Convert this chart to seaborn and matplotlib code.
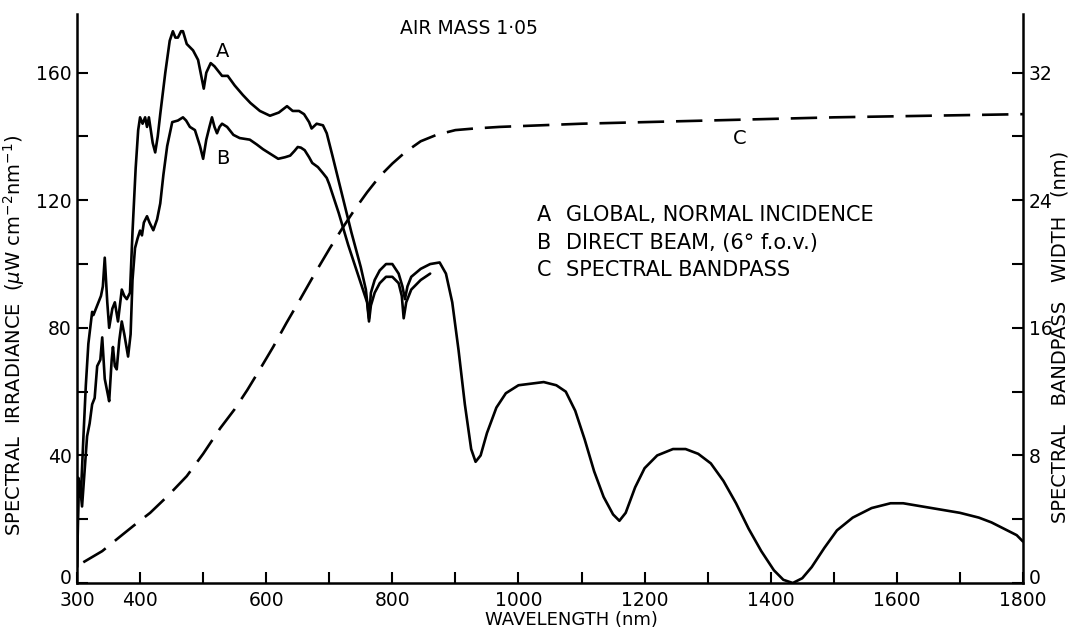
import matplotlib
matplotlib.use("Agg")
import matplotlib.pyplot as plt
import matplotlib.transforms as mtrans
import seaborn as sns
import pandas as pd
from matplotlib.ticker import MultipleLocator, FixedLocator

# ---- data ----
a_nm = [300, 303, 306, 310, 314, 318, 324, 326, 332, 338, 341, 344, 348, 351, 356, 360, 365, 371, 375, 379,
        384, 388, 393, 397, 400, 404, 408, 411, 414, 420, 424, 428, 432, 440, 447, 452, 456, 460, 465, 468,
        474, 484, 492, 496, 501, 505, 512, 518, 522, 530, 539, 550, 563, 575, 590, 606, 620, 633, 642, 652,
        660, 668, 672, 680, 690, 696, 705, 720, 735, 750, 758, 763, 766, 772, 780, 790, 800, 810, 816, 820,
        824, 830, 845, 860, 875, 885, 895, 905, 915, 925, 932, 940, 950, 965, 980, 1000, 1020, 1040, 1060,
        1075, 1090, 1105, 1120, 1135, 1150, 1160, 1170, 1185, 1200, 1220, 1245, 1265, 1285, 1305, 1325, 1345,
        1365, 1385, 1405, 1420, 1435, 1450, 1465, 1485, 1505, 1530, 1560, 1590, 1610, 1640, 1670, 1700, 1730,
        1750, 1770, 1790, 1800]
a_val = [5, 32, 27, 45, 62, 75, 85, 84, 87, 90, 93, 102, 88, 80, 86, 88, 82, 92, 90, 89,
         91, 110, 130, 142, 146, 144, 146, 143, 146, 138, 135, 140, 147, 160, 170, 173, 171, 171, 173, 173,
         169, 167, 164, 160, 155, 160, 163, 162, 161, 159, 159, 156, 153, 150.5, 148, 146.5, 147.5, 149.5, 148, 148,
         147, 144.5, 142.5, 144, 143.5, 141, 134, 122, 110, 99, 92, 83, 91, 95, 98, 100, 100, 97, 93, 89,
         93, 96, 98.5, 100, 100.5, 97, 88, 73, 56, 42, 38, 40, 47, 55, 59.5, 62, 62.5, 63, 62,
         60, 54, 45, 35, 27, 21.5, 19.5, 22, 30, 36, 40, 42, 42, 40.5, 37.5, 32, 25,
         17, 10, 4, 1, 0, 1.5, 5, 11, 16.5, 20.5, 23.5, 25, 25, 24, 23, 22, 20.5,
         19, 17, 15, 13]

b_nm = [300, 302, 305, 308, 312, 316, 320, 324, 328, 332, 337, 340, 344, 348, 351, 355, 357, 360, 363, 367,
        371, 375, 381, 385, 388, 392, 396, 400, 403, 406, 411, 415, 421, 427, 432, 437, 443, 451, 460, 468,
        473, 479, 487, 495, 500, 505, 510, 514, 518, 522, 526, 530, 538, 548, 558, 574, 585, 595, 607, 619,
        630, 638, 645, 650, 655, 661, 668, 673, 682, 690, 696, 700, 715, 730, 745, 755, 760, 763, 766, 772,
        780, 790, 800, 810, 815, 818, 822, 830, 845, 860]
b_val = [5, 33, 30, 24, 35, 46, 50, 56, 58, 68, 70, 77, 64, 60, 57, 70, 74, 68, 67, 76,
         82, 78, 71, 78, 95, 105, 108, 110.5, 109, 113, 115, 113, 110.6, 114, 119, 128, 137, 144.5, 145, 146,
         145, 143, 142, 137, 133, 139, 143, 146, 143, 141, 143, 144, 143, 140.5, 139.5, 139, 137.5, 136, 134.5, 133,
         133.5, 134, 135.5, 136.7, 136.5, 135.7, 133.5, 131.7, 130.4, 128.5, 127, 125, 116, 106, 97, 91, 88, 82, 87, 91,
         94, 96, 96, 94, 90, 83, 88, 92, 95, 97]

c_nm = [310, 340, 368, 390, 416, 445, 474, 500, 527, 550, 570, 590, 611, 632, 654, 677, 701, 720, 740, 760,
        780, 800, 820, 845, 870, 900, 930, 970, 1100, 1300, 1500, 1650, 1800]
c_val = [1.3, 2.0, 2.9, 3.6, 4.4, 5.5, 6.7, 8.1, 9.7, 10.9, 12.1, 13.4, 14.8, 16.3, 17.8, 19.4, 21.0, 22.2, 23.4, 24.5,
         25.5, 26.3, 27.0, 27.7, 28.1, 28.4, 28.5, 28.6, 28.8, 29.0, 29.2, 29.3, 29.4]

x_ticks = [300, 400, 600, 800, 1000, 1200, 1400, 1600, 1800]
left_ticks = [0, 40, 80, 120, 160]
right_ticks = [0, 8, 16, 24, 32]

sns.set_style("ticks")
plt.rcParams['font.family'] = ['DejaVu Sans']
plt.rcParams.update({"text.color": "black", "axes.labelcolor": "black",
                     "xtick.color": "black", "ytick.color": "black",
                     "axes.edgecolor": "black"})

W, H = 1068, 628
fig = plt.figure(figsize=(W / 100, H / 100), dpi=100)
x0, x1, y0, y1 = 77, 1023, 583, 14
ax = fig.add_axes([x0 / W, 1 - y0 / H, (x1 - x0) / W, (y0 - y1) / H])
ax2 = ax.twinx()

LW = 1.9
dfa = pd.DataFrame({"nm": a_nm, "val": a_val})
dfb = pd.DataFrame({"nm": b_nm, "val": b_val})
dfc = pd.DataFrame({"nm": c_nm, "val": c_val})
sns.lineplot(data=dfa, x="nm", y="val", ax=ax, color="black", lw=LW, sort=False, estimator=None)
sns.lineplot(data=dfb, x="nm", y="val", ax=ax, color="black", lw=LW, sort=False, estimator=None)
sns.lineplot(data=dfc, x="nm", y="val", ax=ax2, color="black", lw=LW, sort=False, estimator=None)
ax2.lines[0].set_dashes((10, 4.5))

ax.set_xlim(300, 1800)
ax.set_ylim(0, 178.4)
ax2.set_ylim(0, 178.4 / 5)

for a in (ax, ax2):
    a.spines['top'].set_visible(False)
    for s in a.spines.values():
        s.set_linewidth(1.8)
        s.set_color("black")
ax.spines['right'].set_visible(False)
ax2.spines['left'].set_visible(False)
ax2.spines['bottom'].set_visible(False)

tick_font = 13.5
ax.xaxis.set_major_locator(FixedLocator(x_ticks))
ax.xaxis.set_minor_locator(MultipleLocator(100))
ax.yaxis.set_major_locator(FixedLocator(left_ticks))
ax.yaxis.set_minor_locator(MultipleLocator(20))
ax2.yaxis.set_major_locator(FixedLocator(right_ticks))
ax2.yaxis.set_minor_locator(MultipleLocator(4))
ax.set_xticklabels([str(t) for t in x_ticks])
ax.set_yticklabels([str(t) for t in left_ticks])
ax2.set_yticklabels([str(t) for t in right_ticks])

ax.tick_params(axis='x', which='both', direction='in', length=8, width=1.5, labelsize=tick_font, pad=6,
               colors="black")
ax.tick_params(axis='y', which='both', direction='in', length=8, width=1.5, labelsize=tick_font, pad=4,
               colors="black")
ax2.tick_params(axis='y', which='both', direction='in', length=8, width=1.5, labelsize=tick_font, pad=4,
                colors="black")
shift_up = mtrans.ScaledTranslation(0, 6 / 100, fig.dpi_scale_trans)
for lab in ax.get_yticklabels() + ax2.get_yticklabels():
    if lab.get_text() == "0":
        lab.set_transform(lab.get_transform() + shift_up)

ax.set_xlabel("WAVELENGTH (nm)", fontsize=13, color="black")
ax.xaxis.set_label_coords(0.523, -0.05)
ax.set_ylabel(r"SPECTRAL  IRRADIANCE  ($\mu$W cm$^{-2}$nm$^{-1}$)", fontsize=14, color="black")
ax.yaxis.set_label_coords(-0.053, 0.436)
ax2.set_ylabel("SPECTRAL   BANDPASS   WIDTH   (nm)", fontsize=14, color="black")
ax2.yaxis.set_label_coords(1.029, 0.432)

ax.text(921, 174, "AIR MASS 1·05", fontsize=13.5, ha="center", va="center")
ax.text(531, 166.5, "A", fontsize=14, ha="center", va="center")
ax.text(531, 133, "B", fontsize=14, ha="center", va="center")
ax.text(1351, 139.5, "C", fontsize=14, ha="center", va="center")

legend_rows = [("A", "GLOBAL, NORMAL INCIDENCE"),
               ("B", "DIRECT BEAM, (6° f.o.v.)"),
               ("C", "SPECTRAL BANDPASS")]
for i, (k, t) in enumerate(legend_rows):
    yv = 115.4 - i * 8.7
    ax.text(1029, yv, k, fontsize=15, ha="left", va="center")
    ax.text(1075, yv, t, fontsize=15, ha="left", va="center")

fig.savefig("out.png", dpi=100)
